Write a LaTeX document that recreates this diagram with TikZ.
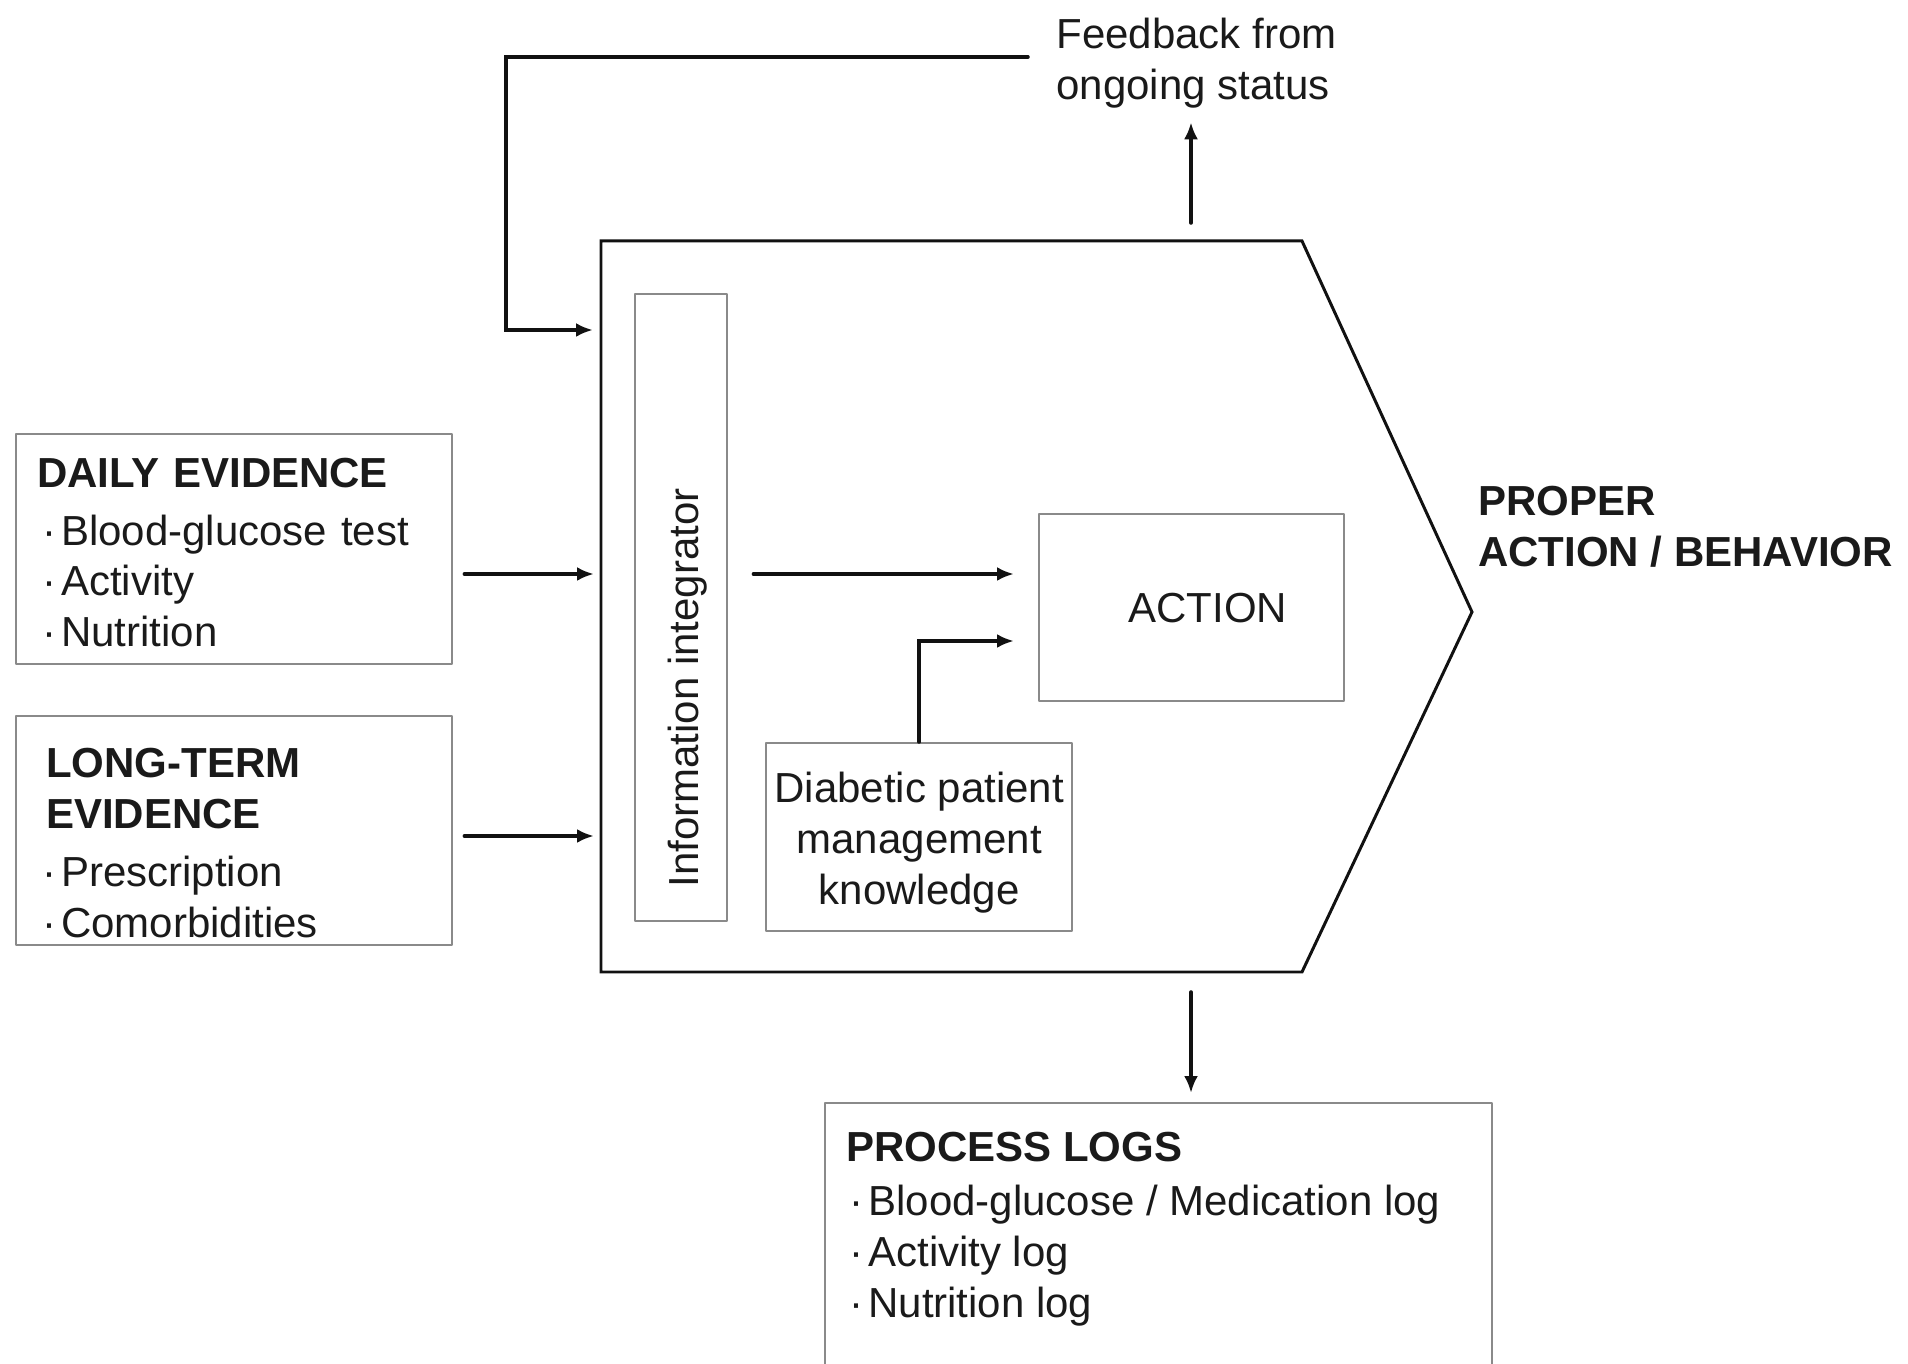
\documentclass[tikz,border=0pt]{standalone}
\usepackage{fontspec}
\setmainfont{Liberation Sans}
\usepackage{tikz}
\usetikzlibrary{arrows.meta,calc,positioning}
\definecolor{figline}{HTML}{111111}
\definecolor{boxgray}{HTML}{8A8A8A}
\definecolor{figtext}{HTML}{1A1A1A}
\newcommand{\bitem}[1]{\hspace*{0.1cm}\textperiodcentered\hspace{0.1cm}#1}
\tikzset{
every picture/.style={line cap=round,line join=round},
fig font/.style={font=\fontsize{23.9}{28.9}\selectfont},
gray box/.style={
  draw=boxgray,
  line width=1.4pt,
  fig font,
  text=figtext,
  inner sep=0pt
},
evidence box/.style={
  gray box,
  anchor=north west,
  align=left,
  minimum width=8.72cm,
  text width=7.88cm,
  inner xsep=0.42cm
},
outline/.style={draw=figline, line width=1.7pt, line join=miter},
fig flow/.style={
  draw=figline,
  -{Latex[length=0.34cm,width=0.28cm]},
  line width=2pt,
  line join=miter
},
fig label/.style={fig font, text=figtext, inner sep=0pt}
}
\begin{document}
\begin{tikzpicture}[x=0.02cm,y=-0.02cm]
\useasboundingbox (0,0) rectangle (1908,1364);
% main block
\draw[outline] (601,241) coordinate (mainNW) -- (1191,241) coordinate (mainTop) -- (1302,241) -- (1472,612) coordinate (tip) -- (1302,972) -- (1191,972) coordinate (mainBot) -- (601,972) -- cycle;
% evidence inputs
\node[evidence box, minimum height=4.6cm] (daily) at (15,433) {\rule{0pt}{0.72cm}\textbf{DAILY EVIDENCE}\\[4pt]\bitem{Blood-glucose test}\\\bitem{Activity}\\\bitem{Nutrition}};
\node[evidence box, minimum height=4.58cm] (longterm) at (15,715) {\rule{0pt}{1.08cm}\hspace*{0.18cm}\textbf{LONG-TERM}\\\hspace*{0.18cm}\textbf{EVIDENCE}\\[4pt]\bitem{Prescription}\\\bitem{Comorbidities}};
% inside the block
\node[gray box, anchor=north west, minimum width=1.84cm, minimum height=12.54cm] (integ) at (634,293) {};
\node[fig label, rotate=90] (integlabel) at (688,688) {Information integrator};
\node[gray box, anchor=north west, minimum width=6.1cm, minimum height=3.74cm] (action) at (1038,513) {\hspace*{0.64cm}ACTION};
\node[gray box, anchor=north west, minimum width=6.12cm, minimum height=3.76cm, align=center] (diab) at (765,742) {\rule{0pt}{0.82cm}Diabetic patient\\management\\knowledge};
% outputs
\node[gray box, anchor=north west, minimum width=13.34cm, minimum height=6cm] (logs) at (824,1102) {};
\node[fig label, anchor=north west, align=left] (logstext) at ([shift={(22,30)}]logs.north west) {\textbf{PROCESS LOGS}\\[2pt]\hspace*{-0.04cm}\bitem{Blood-glucose / Medication log}\\\hspace*{-0.04cm}\bitem{Activity log}\\\hspace*{-0.04cm}\bitem{Nutrition log}};
\node[fig label, anchor=west, align=left] (fb) at (1056,63) {Feedback from\\ongoing status};
\node[fig label, anchor=west, align=left] (proper) at (1478,527) {\textbf{PROPER}\\\textbf{ACTION / BEHAVIOR}};
% connectors
\draw[fig flow, shorten <=0.22cm, shorten >=0.14cm] (daily.east |- 0,574) -- (mainNW |- 0,574);
\draw[fig flow, shorten <=0.22cm, shorten >=0.14cm] (longterm.east |- 0,836) -- (mainNW |- 0,836);
\draw[fig flow, shorten <=0.5cm, shorten >=0.48cm] (integ.east |- 0,574) -- (action.west |- 0,574);
\draw[fig flow, shorten >=0.48cm] (diab.north) |- (action.west |- 0,641);
\draw[fig flow, shorten <=0.36cm, shorten >=0.28cm] (mainTop) -- (mainTop |- fb.south);
\draw[fig flow, shorten <=0.4cm, shorten >=0.18cm] (mainBot) -- (mainBot |- logs.north);
\draw[fig flow, shorten <=0.56cm, shorten >=0.16cm] (fb.west |- 0,57) -| (506,330) -- (mainNW |- 0,330);
\end{tikzpicture}
\end{document}
